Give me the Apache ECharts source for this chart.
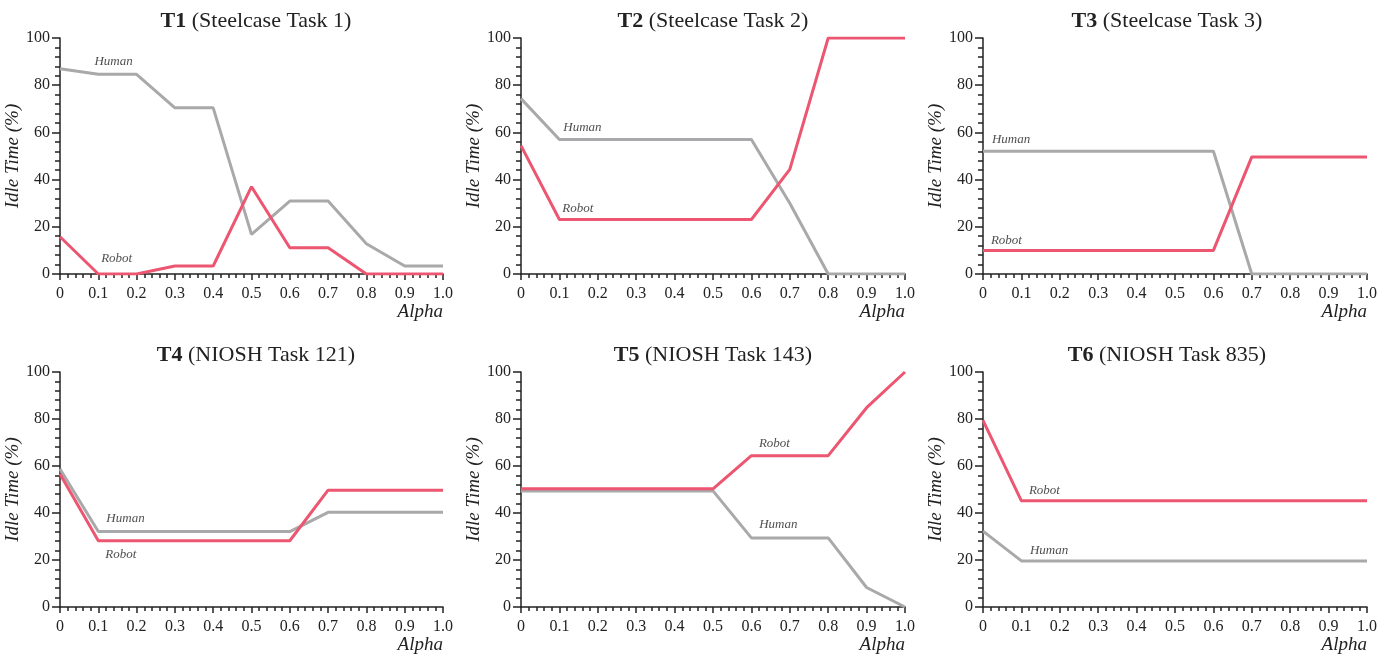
<!DOCTYPE html>
<html>
<head>
<meta charset="utf-8">
<script src="https://cdn.jsdelivr.net/npm/echarts@6/dist/echarts.min.js"></script>
<style>
  html, body { margin: 0; padding: 0; background: #fff; }
  #main { width: 1388px; height: 656px; }
</style>
</head>
<body>
<div id="main"></div>
<script>
// alpha values shared by every panel
const alpha = [0, 0.1, 0.2, 0.3, 0.4, 0.5, 0.6, 0.7, 0.8, 0.9, 1.0];

const taskIds = ['T1', 'T2', 'T3', 'T4', 'T5', 'T6'];
const taskNames = ['Steelcase Task 1', 'Steelcase Task 2', 'Steelcase Task 3',
                   'NIOSH Task 121', 'NIOSH Task 143', 'NIOSH Task 835'];

// idle time (%) of the human, per task
const humanT1 = [87, 84.6, 84.6, 70.4, 70.4, 16.8, 30.9, 30.9, 12.8, 3.4, 3.4];
const humanT2 = [74.3, 57, 57, 57, 57, 57, 57, 30, 0, 0, 0];
const humanT3 = [52, 52, 52, 52, 52, 52, 52, 0, 0, 0, 0];
const humanT4 = [58.7, 32.1, 32.1, 32.1, 32.1, 32.1, 32.1, 40.3, 40.3, 40.3, 40.3];
const humanT5 = [49.4, 49.4, 49.4, 49.4, 49.4, 49.4, 29.4, 29.4, 29.4, 8.3, 0];
const humanT6 = [32.3, 19.6, 19.6, 19.6, 19.6, 19.6, 19.6, 19.6, 19.6, 19.6, 19.6];

// idle time (%) of the robot, per task
const robotT1 = [15.8, 0, 0, 3.4, 3.4, 37, 11.1, 11.1, 0, 0, 0];
const robotT2 = [54.4, 23.1, 23.1, 23.1, 23.1, 23.1, 23.1, 44.3, 100, 100, 100];
const robotT3 = [10, 10, 10, 10, 10, 10, 10, 49.6, 49.6, 49.6, 49.6];
const robotT4 = [56.6, 28.2, 28.2, 28.2, 28.2, 28.2, 28.2, 49.7, 49.7, 49.7, 49.7];
const robotT5 = [50.3, 50.3, 50.3, 50.3, 50.3, 50.3, 64.4, 64.4, 64.4, 84.8, 100];
const robotT6 = [79.4, 45.2, 45.2, 45.2, 45.2, 45.2, 45.2, 45.2, 45.2, 45.2, 45.2];

// where the "Human" / "Robot" words sit, in [alpha, idle] of each panel
const humanLabelAt = [[0.14, 90], [0.16, 62], [0.073, 57], [0.171, 37.6], [0.67, 35], [0.172, 24.2]];
const robotLabelAt = [[0.148, 6.5], [0.148, 27.6], [0.061, 14], [0.159, 22.5], [0.66, 69.7], [0.16, 49.6]];

const yTicks = [0, 20, 40, 60, 80, 100];

const humans = [humanT1, humanT2, humanT3, humanT4, humanT5, humanT6];
const robots = [robotT1, robotT2, robotT3, robotT4, robotT5, robotT6];

const RED = '#ec5670';
const GREY = '#a9a9ab';
const INK = '#222';
const FONT = 'Liberation Serif';

// panel frames (px)
const cols = [{ left: 60, width: 383, title: 251 }, { left: 521, width: 384, title: 708 }, { left: 983, width: 384, title: 1162 }];
const rows = [{ top: 38, height: 236, title: 5 }, { top: 372, height: 235, title: 339 }];

const grids = [], xAxes = [], yAxes = [], titles = [], series = [];

taskIds.forEach((id, i) => {
  const c = cols[i % 3], r = rows[Math.floor(i / 3)];
  grids.push({ left: c.left, top: r.top, width: c.width, height: r.height });
  titles.push({
    text: '{b|' + id + '} (' + taskNames[i] + ')',
    left: c.title, top: r.title, textAlign: 'center',
    textStyle: {
      fontFamily: FONT, fontSize: 22, fontWeight: 'normal', color: INK,
      rich: { b: { fontFamily: FONT, fontSize: 22, fontWeight: 'bold', color: INK } }
    }
  });
  xAxes.push({
    gridIndex: i, type: 'value', min: 0, max: 1, interval: 0.1,
    name: 'Alpha', nameLocation: 'end', nameGap: 0,
    nameTextStyle: { fontFamily: FONT, fontStyle: 'italic', fontSize: 19, color: INK,
                     align: 'right', verticalAlign: 'top', padding: [28, 0, 0, 0] },
    axisLine: { lineStyle: { color: INK, width: 1.5 } },
    axisTick: { length: 6, lineStyle: { color: INK, width: 1.5 } },
    minorTick: { show: true, splitNumber: 5, length: 4, lineStyle: { color: INK, width: 1.5 } },
    axisLabel: { fontFamily: FONT, fontSize: 16, color: INK, margin: 12,
                 formatter: v => v === 0 ? '0' : v.toFixed(1) },
    splitLine: { show: false }
  });
  yAxes.push({
    gridIndex: i, type: 'value', min: yTicks[0], max: yTicks[yTicks.length - 1], interval: 20,
    name: 'Idle Time (%)', nameLocation: 'middle', nameGap: 35, nameRotate: 90,
    nameTextStyle: { fontFamily: FONT, fontStyle: 'italic', fontSize: 19, color: INK },
    axisLine: { show: true, lineStyle: { color: INK, width: 1.5 } },
    axisTick: { show: true, length: 8, lineStyle: { color: INK, width: 1.5 } },
    minorTick: { show: true, splitNumber: 5, length: 5, lineStyle: { color: INK, width: 1.5 } },
    axisLabel: { fontFamily: FONT, fontSize: 16, color: INK, margin: 10 },
    splitLine: { show: false }
  });
  series.push({
    type: 'line', xAxisIndex: i, yAxisIndex: i, symbol: 'none', silent: true,
    lineStyle: { color: GREY, width: 3 },
    data: alpha.map((a, k) => [a, humans[i][k]])
  });
  series.push({
    type: 'line', xAxisIndex: i, yAxisIndex: i, symbol: 'none', silent: true,
    lineStyle: { color: RED, width: 3 },
    data: alpha.map((a, k) => [a, robots[i][k]])
  });
  series.push({
    type: 'scatter', xAxisIndex: i, yAxisIndex: i, symbolSize: 0, silent: true,
    label: { show: true, position: 'inside', formatter: '{b}',
             fontFamily: FONT, fontStyle: 'italic', fontSize: 13, color: INK },
    data: [{ name: 'Human', value: humanLabelAt[i] }, { name: 'Robot', value: robotLabelAt[i] }]
  });
});

const chart = echarts.init(document.getElementById('main'));
chart.setOption({
  animation: false,
  backgroundColor: '#fff',
  title: titles,
  grid: grids,
  xAxis: xAxes,
  yAxis: yAxes,
  series: series
});
</script>
</body>
</html>
